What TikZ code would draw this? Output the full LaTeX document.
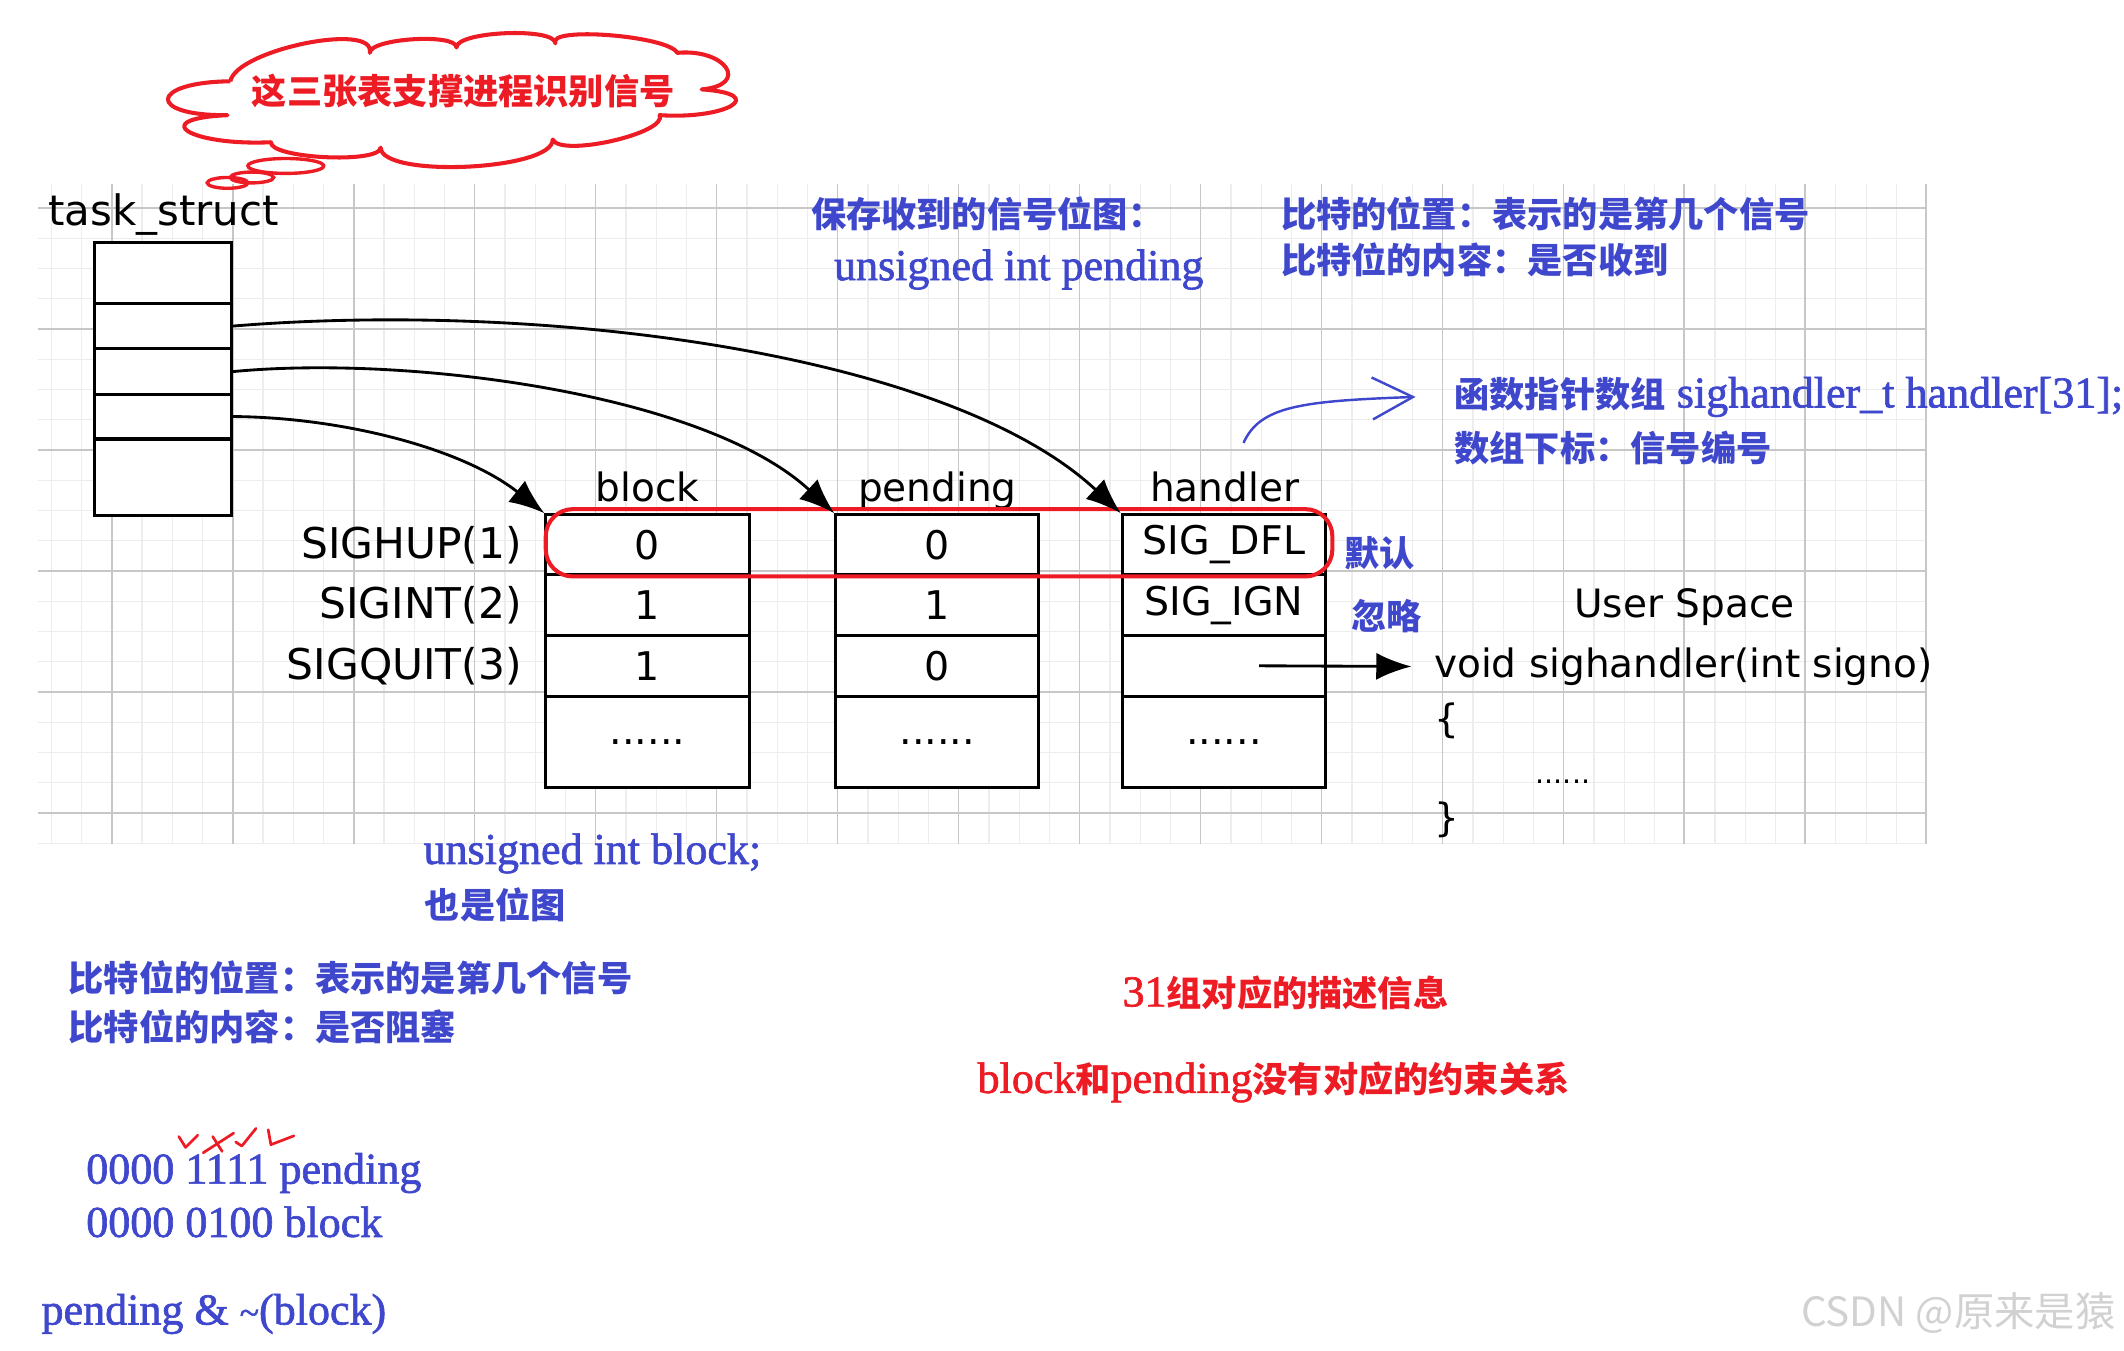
\documentclass[tikz,border=0pt]{standalone}
\usepackage{fontspec}
\setmainfont{Liberation Serif}
\newfontfamily\notefont{Liberation Serif}[FakeBold=1.5]
\newfontfamily\cjk{Noto Sans CJK SC}[Scale=0.8]
\newfontfamily\handfont{DejaVu Sans}
\usetikzlibrary{positioning, calc, arrows.meta}
\definecolor{penblue}{RGB}{63,72,204}
\definecolor{penred}{RGB}{237,28,36}
\newcommand{\zh}[1]{{\cjk\bfseries #1}}
\tikzset{
  % squared paper behind the tables
  gridminor/.style = { line width=0.25pt, black!7 },
  gridmajor/.style = { line width=0.35pt, black!22 },
  % boxes and pointers
  slot/.style     = { draw, line width=0.22mm, fill=white, minimum width=10.1mm, inner sep=0 },
  cell/.style     = { draw, line width=0.22mm, fill=white, minimum width=15mm, inner sep=0,
                      font=\handfont\fontsize{8.3}{10}\selectfont },
  colhead/.style  = { anchor=base, inner sep=0, font=\handfont\fontsize{8.2}{10}\selectfont },
  siglabel/.style = { inner sep=0, font=\handfont\fontsize{8.9}{10}\selectfont },
  hand/.style     = { inner sep=0, anchor=west, font=\handfont\fontsize{8.2}{10}\selectfont },
  ptr/.style      = { line width=0.21mm, -{Latex[length=2.6mm, width=2mm]} },
  % pen notes
  bluenote/.style = { text=penblue, inner sep=0, anchor=west, font=\notefont\fontsize{9.25}{11}\selectfont },
  rednote/.style  = { text=penred, inner sep=0, anchor=west, font=\notefont\fontsize{9.25}{11}\selectfont },
  ring/.style     = { draw=penred, line width=0.3mm, rounded corners=2mm },
  cloudline/.style= { draw=penred, line width=0.3mm, line join=round },
  bubble/.style   = { draw=penred, line width=0.25mm },
  tick/.style     = { penred, line width=0.2mm, line cap=round, line join=round },
  penarrow/.style = { penblue, line width=0.18mm, -{Straight Barb[length=3mm, width=3.1mm]} }
}

\begin{document}
\begin{tikzpicture}[x=0.1mm, y=-0.1mm]
  \useasboundingbox (0,0) rectangle (1568,997);

  % --- squared paper ---------------------------------------------
  \foreach \i in {-2,...,60}
    \draw[gridminor] ({82.5+22.33*\i},136) -- ({82.5+22.33*\i},623);
  \foreach \j in {0,...,21}
    \draw[gridminor] (28,{153.5+22.33*\j}) -- (1422,{153.5+22.33*\j});
  \foreach \i in {0,...,15}
    \draw[gridmajor] ({82.5+89.3*\i},136) -- ({82.5+89.3*\i},623);
  \foreach \j in {0,...,5}
    \draw[gridmajor] (28,{153.5+89.3*\j}) -- (1422,{153.5+89.3*\j});

  % --- thought cloud (one puff per segment) ----------------------
  \draw[cloudline] (170,60)
    .. controls (174.7,36.7) and (277.7,15.7) .. (273,39)
    .. controls (273,28.3) and (337,24.3) .. (337,35)
    .. controls (337,23) and (410,20) .. (410,32)
    .. controls (403.3,19.3) and (493.3,26.3) .. (500,39)
    .. controls (536,35.7) and (554,62.7) .. (518,66)
    .. controls (568,69.3) and (537,88.3) .. (487,85)
    .. controls (493,98.3) and (414,116.3) .. (408,103)
    .. controls (408.7,125.7) and (281.7,131.7) .. (281,109)
    .. controls (280.3,121) and (199.3,117) .. (200,105)
    .. controls (140,107.7) and (108,87.7) .. (168,85)
    .. controls (108,85.7) and (110,60.7) .. (170,60);
  \node[inner sep=0, text=penred, font=\fontsize{9.25}{11}\selectfont] (cloudtext) at (342,67)
    {\zh{这三张表支撑进程识别信号}};
  \draw[bubble] (211,122.5) ellipse [x radius=2.8mm, y radius=0.55mm];
  \draw[bubble] (186,131) ellipse [x radius=1.6mm, y radius=0.4mm];
  \draw[bubble] (168,135) ellipse [x radius=1.5mm, y radius=0.4mm];

  % --- task_struct -----------------------------------------------
  \node[hand, font=\handfont\fontsize{8.8}{10}\selectfont] (tslabel) at (35,158) {task\_struct};
  \node[slot, minimum height=4.45mm] (ts1) at (120.5,201.6) {};
  \node[slot, minimum height=3.4mm]  (ts2) at (120.5,240.7) {};
  \node[slot, minimum height=3.35mm] (ts3) at (120.5,274.3) {};
  \node[slot, minimum height=3.3mm]  (ts4) at (120.5,307.5) {};
  \node[slot, minimum height=5.6mm]  (ts5) at (120.5,352.2) {};

  % --- block / pending / handler tables --------------------------
  \foreach \tab/\cx/\ra/\rb/\rc in {blk/478/0/1/1, pnd/692/0/1/0, hdl/903.5/SIG\_DFL/SIG\_IGN/{}} {
    \node[cell, minimum height=4.45mm] (\tab1) at (\cx,402.2) {\ra};
    \node[cell, minimum height=4.45mm] (\tab2) at (\cx,446.7) {\rb};
    \node[cell, minimum height=4.5mm]  (\tab3) at (\cx,491.5) {\rc};
    \node[cell, minimum height=6.7mm]  (\tab4) at (\cx,547.5) {......};
  }
  \node[colhead] (blkhead) at (478,370) {block};
  \node[colhead] (pndhead) at (692,370) {pending};
  \node[colhead] (hdlhead) at (904,370) {handler};

  \node[siglabel, left=1.6mm of blk1] (sighup)  {SIGHUP(1)};
  \node[siglabel, left=1.6mm of blk2] (sigint)  {SIGINT(2)};
  \node[siglabel, left=1.6mm of blk3] (sigquit) {SIGQUIT(3)};

  \draw[ring] ($(blk1.north west)+(1,-3)$) rectangle ($(hdl1.south east)+(4,0)$);

  \draw[ptr] (ts2.east) .. controls (400,222) and (700,260) .. (hdl1.north west);
  \draw[ptr] (ts3.east) .. controls (300,262) and (520,290) .. (pnd1.north west);
  \draw[ptr] (ts4.east) .. controls (250,308) and (340,330) .. (blk1.north west);

  \node[bluenote] (dflnote) at (992,408) {\zh{默认}};
  \node[bluenote] (ignnote) at (997,455) {\zh{忽略}};

  % --- user space handler ----------------------------------------
  \node[hand, anchor=center] (userspace) at (1243.5,448) {User Space};
  \node[hand] (sigfn)  at (1058,492) {void sighandler(int signo)};
  \node[hand] (lbrace) at (1058,532) {\{};
  \node[hand, font=\handfont\fontsize{6}{7}\selectfont] (bodydots) at (1133,577) {......};
  \node[hand] (rbrace) at (1058,605) {\}};
  \draw[ptr] ([xshift=2.6mm]hdl3.center) -- ([xshift=-1.6mm]sigfn.west);

  % --- notes -----------------------------------------------------
  \node[bluenote] (savenote) at (598,158) {\zh{保存收到的信号位图：}};
  \node[bluenote] (pendvar)  at (615,199) {unsigned int pending};
  \node[bluenote] (posnote)  at (945,158) {\zh{比特的位置：表示的是第几个信号}};
  \node[bluenote] (rcvnote)  at (945,192) {\zh{比特位的内容：是否收到}};

  \coordinate (penstart) at (918,327);
  \node[bluenote] (fnarr)   at (1073,293) {\zh{函数指针数组} sighandler\_t handler[31];};
  \node[bluenote] (idxnote) at (1073,331) {\zh{数组下标：信号编号}};
  \draw[penarrow] (penstart) .. controls (930,300) and (960,296) .. ([xshift=-2.8mm]fnarr.west);

  \node[bluenote] (blockvar)   at (312,630) {unsigned int block;};
  \node[bluenote] (bitmapnote) at (313,668) {\zh{也是位图}};
  \node[bluenote] (bposnote)   at (50,722)  {\zh{比特位的位置：表示的是第几个信号}};
  \node[bluenote] (bcntnote)   at (50,758)  {\zh{比特位的内容：是否阻塞}};

  \node[rednote] (groupnote) at (828,733) {31\zh{组对应的描述信息}};
  \node[rednote] (freenote)  at (721,799) {block\zh{和}pending\zh{没有对应的约束关系}};

  \node[bluenote] (pendbits)  at (63,866) {0000 1111 pending};
  \node[bluenote] (blockbits) at (63,902) {0000 0100 block};
  \node[bluenote] (maskexpr)  at (30,970) {pending \& {\fontsize{7.5}{9}\selectfont\textasciitilde}(block)};

  % red ticks over the pending bits
  \draw[tick] (132,839) -- (137,847) -- (146,838);
  \draw[tick] (150,851) -- (172.5,836.5);
  \draw[tick] (157,839) -- (164,850);
  \draw[tick] (174,843) -- (178.5,846) -- (189,833);
  \draw[tick] (198,834) -- (200,845) -- (217,838.5);

  \node[inner sep=0, anchor=west, text=black!18, font=\cjk\fontsize{10.6}{12}\selectfont] (mark)
    at (1329,969) {CSDN @原来是猿};

\end{tikzpicture}
\end{document}
